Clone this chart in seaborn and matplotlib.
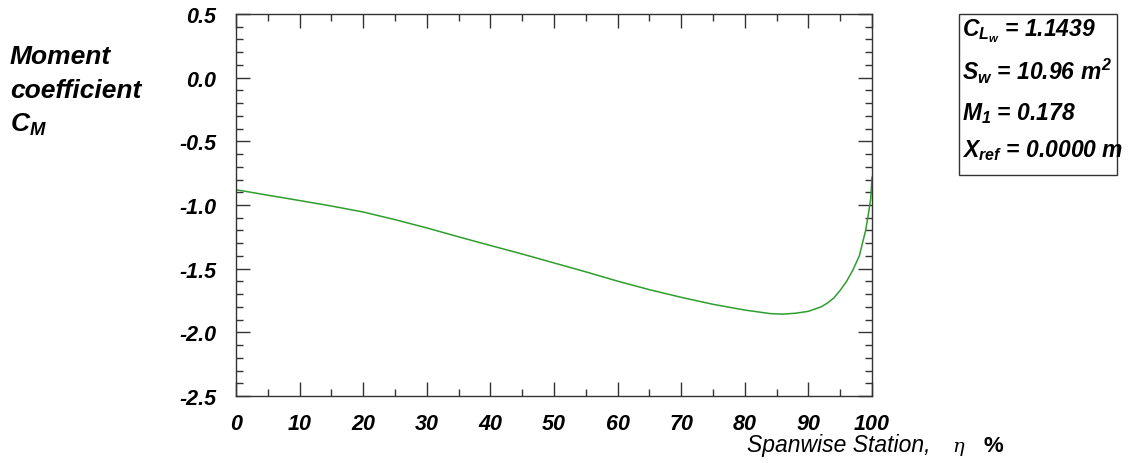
import matplotlib
matplotlib.use("Agg")
import matplotlib.pyplot as plt
from matplotlib.ticker import MultipleLocator, FuncFormatter
import seaborn as sns
import pandas as pd

# ---- data ----
span_station = [0, 5, 10, 15, 20, 25, 30, 35, 40, 45, 50, 55, 60, 65, 70, 75,
                80, 84, 86, 88, 90, 92, 93, 94, 95, 96, 97, 98, 99, 99.5, 99.8, 100]
moment_coef = [-0.88, -0.923, -0.965, -1.008, -1.055, -1.115, -1.18, -1.25, -1.318,
               -1.385, -1.455, -1.525, -1.598, -1.665, -1.725, -1.78, -1.825,
               -1.853, -1.857, -1.85, -1.835, -1.80, -1.77, -1.73, -1.67, -1.60,
               -1.51, -1.40, -1.20, -1.05, -0.95, -0.78]
info_lines = [r"$\mathit{C_{L_w}}$ = 1.1439",
              r"$\mathit{S_w}$ = 10.96 $\mathit{m^2}$",
              r"$\mathit{M_1}$ = 0.178",
              r"$\mathit{X_{ref}}$ = 0.0000 m"]
y_label_lines = ["Moment", "coefficient"]

sns.set_theme(style="white")
plt.rcParams['font.family'] = ['Liberation Sans', 'DejaVu Sans']
plt.rcParams['font.weight'] = 'bold'
plt.rcParams['font.style'] = 'italic'
plt.rcParams['text.color'] = 'black'
plt.rcParams['xtick.color'] = 'black'
plt.rcParams['ytick.color'] = 'black'
plt.rcParams['mathtext.fontset'] = 'custom'
plt.rcParams['mathtext.it'] = 'Liberation Sans:bold:italic'
plt.rcParams['mathtext.rm'] = 'Liberation Sans:bold:italic'
plt.rcParams['mathtext.bf'] = 'Liberation Sans:bold:italic'

fig = plt.figure(figsize=(11.31, 4.64), dpi=100)
ax = fig.add_axes([236/1131, 1 - 397/464, (872-236)/1131, (397-15)/464])

df = pd.DataFrame({"x": span_station, "y": moment_coef})
sns.lineplot(data=df, x="x", y="y", ax=ax, color="#2e9e2e", linewidth=1.1, sort=False)

ax.set_xlim(0, 100)
ax.set_ylim(-2.5, 0.5)
ax.xaxis.set_major_locator(MultipleLocator(10))
ax.xaxis.set_minor_locator(MultipleLocator(5))
ax.yaxis.set_major_locator(MultipleLocator(0.5))
ax.yaxis.set_minor_locator(MultipleLocator(0.1))
ax.tick_params(which="both", direction="in", top=True, right=True, bottom=True, left=True,
               color="#333333", width=1.0, labelsize=15.5, labelcolor="black")
ax.tick_params(which="major", length=10)
ax.tick_params(which="minor", length=5)
ax.tick_params(axis="y", pad=14)
ax.tick_params(axis="x", pad=12)
for s in ax.spines.values():
    s.set_color("#333333")
    s.set_linewidth(1.0)
    s.set_visible(True)

ax.xaxis.set_major_formatter(FuncFormatter(lambda v, p: f"{v:.0f}"))
ax.yaxis.set_major_formatter(FuncFormatter(lambda v, p: f"{v:.1f}"))

ax.set_xlabel("")
ax.set_ylabel("")

# y label block at top-left
fig.text(10/1131, 1 - 64/464, y_label_lines[0], fontsize=19, ha="left", va="baseline")
fig.text(10/1131, 1 - 98/464, y_label_lines[1], fontsize=19, ha="left", va="baseline")
fig.text(10/1131, 1 - 132/464, r"$\mathit{C_M}$", fontsize=19, ha="left", va="baseline")

# x label
fig.text(747/1131, 1 - 452/464, "Spanwise Station,", fontsize=16.5, fontweight="normal",
         ha="left", va="baseline")
fig.text(952/1131, 1 - 452/464, "η", fontsize=14, fontstyle="italic", fontweight="normal",
         family="DejaVu Serif", ha="left", va="baseline")
fig.text(983/1131, 1 - 452/464, "%", fontsize=16, fontweight="bold", fontstyle="normal",
         ha="left", va="baseline")

# info box
box = plt.Rectangle((959/1131, 1 - 176/464), (1117-959)/1131, (176-15)/464,
                    transform=fig.transFigure, fill=False, edgecolor="#333333", linewidth=1.0)
fig.add_artist(box)
baselines = [36, 80, 120, 157]
for txt, yb in zip(info_lines, baselines):
    fig.text(962/1131, 1 - yb/464, txt, fontsize=16.5, ha="left", va="baseline")

fig.savefig("out.png", dpi=100)
